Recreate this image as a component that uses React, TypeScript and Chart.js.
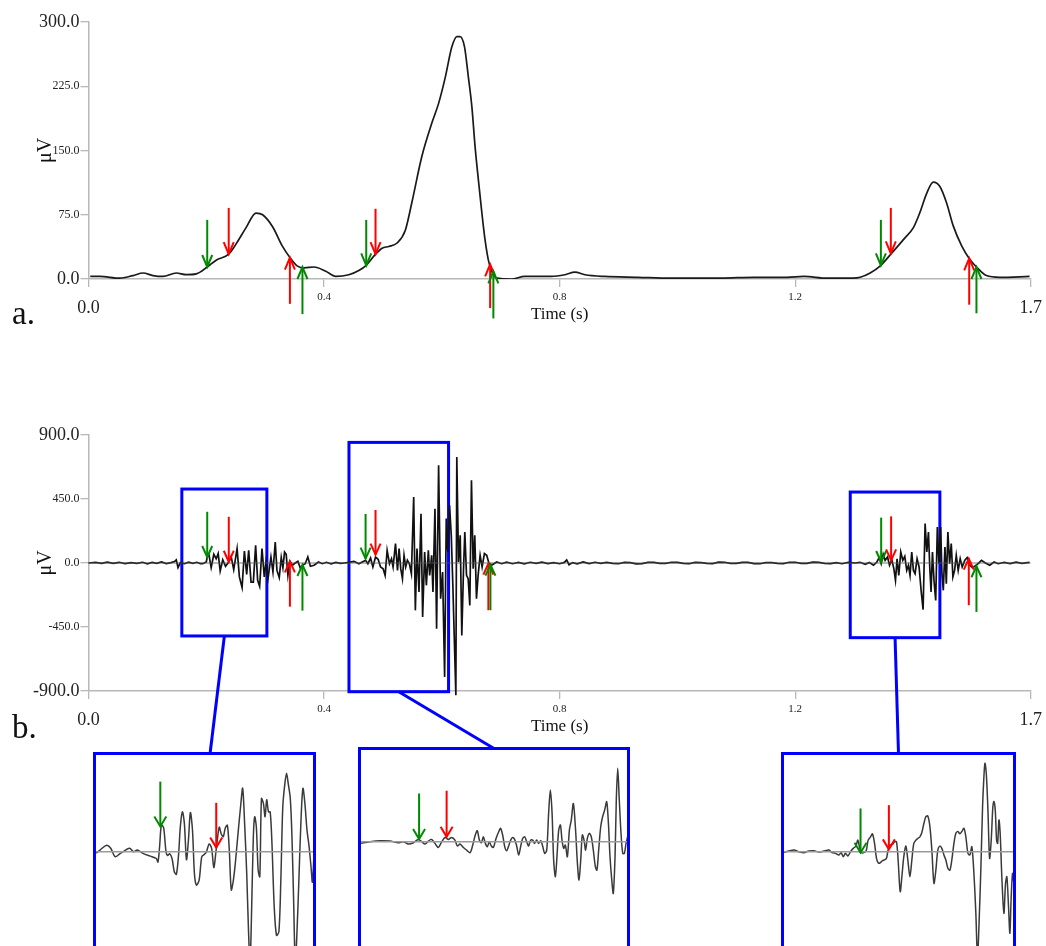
import React, { useEffect, useRef } from "react";
import { Chart, registerables } from "chart.js";

Chart.register(...registerables);

const FONT = "'Liberation Serif', 'Times New Roman', serif";
const BLUE = "#0000ff";
const COLORS: Record<string, string> = { green: "#008a00", red: "#ff0000" };

// ---------------- axis ticks ----------------
const xTickValues = [0, 0.4, 0.8, 1.2, 1.6];
const xTickLabels = ["0.0", "0.4", "0.8", "1.2", "1.7"];
const envTickValues = [0, 75, 150, 225, 300];
const rawTickValues = [-900, -450, 0, 450, 900];

// ---------------- (a) envelope ----------------
const envTimes = [
  0.003, 0.019, 0.053, 0.0755, 0.0927, 0.1096, 0.1265, 0.149, 0.166, 0.183,
  0.2016, 0.2168, 0.2381, 0.2507, 0.2676, 0.2845, 0.2957, 0.3126, 0.3295, 0.342,
  0.3549, 0.3662, 0.383, 0.403, 0.4198, 0.442, 0.459, 0.4716, 0.4874, 0.4986,
  0.51, 0.524, 0.538, 0.549, 0.566, 0.583, 0.5945, 0.606, 0.617, 0.6255,
  0.631, 0.6385, 0.645, 0.651, 0.6565, 0.662, 0.668, 0.6735, 0.679, 0.6846,
  0.693, 0.718, 0.741, 0.786, 0.809, 0.826, 0.843, 0.876, 0.933, 0.989,
  1.017, 1.074, 1.13, 1.186, 1.215, 1.254, 1.299, 1.3104, 1.3273, 1.3455,
  1.3624, 1.3838, 1.4007, 1.412, 1.4233, 1.4346, 1.4457, 1.457, 1.4684, 1.4825,
  1.4955, 1.5078, 1.5247, 1.5472, 1.598,
];
const envValues = [
  3, 3, 1, 4, 7, 4, 3, 7, 5, 6,
  14, 22, 29, 41, 60, 77, 75, 61, 38, 25,
  15, 13, 14, 9, 3, 5, 10, 16, 29, 36,
  38, 42, 57, 89, 143, 182, 205, 236, 271, 283,
  283, 271, 236, 201, 154, 116, 77, 45, 22, 9,
  1, 0, 3, 3, 5, 8, 5, 3, 2, 1,
  1, 1, 2, 2, 3, 1, 1, 2, 7, 16,
  29, 46, 60, 78, 100, 113, 108, 89, 62, 39,
  24, 14, 4, 2, 3,
];
const envArrowTimes = [0.2016, 0.2381, 0.342, 0.3633, 0.4716, 0.4874, 0.682, 0.6875, 1.3455, 1.3624, 1.4955, 1.5078];
const envArrowTips = [14, 29, 25, 14, 16, 29, 17, 9, 16, 30, 24, 14];
const envArrowTails = [69, 83, -29, -41, 69, 82, -34, -46, 69, 83, -30, -40];
const envArrowColors = ["green", "red", "red", "green", "green", "red", "red", "green", "green", "red", "red", "green"];

// ---------------- (b) raw EMG ----------------
const rawTimes = [
  0.0, 0.012, 0.022, 0.032, 0.042, 0.052, 0.062, 0.072, 0.082, 0.092,
  0.1, 0.108, 0.116, 0.124, 0.132, 0.14, 0.146, 0.149, 0.152, 0.156,
  0.163, 0.17, 0.177, 0.184, 0.19, 0.194, 0.2, 0.2016, 0.2044, 0.2083,
  0.2128, 0.2168, 0.2202, 0.2236, 0.228, 0.2326, 0.2382, 0.2422, 0.2466, 0.2523,
  0.2562, 0.2608, 0.2647, 0.2686, 0.272, 0.276, 0.2799, 0.2838, 0.2872, 0.2906,
  0.2946, 0.2985, 0.3014, 0.3048, 0.3098, 0.3132, 0.3171, 0.32, 0.3239, 0.3273,
  0.3301, 0.3329, 0.3357, 0.3386, 0.342, 0.3464, 0.351, 0.3555, 0.3594, 0.3633,
  0.3679, 0.3724, 0.3768, 0.3831, 0.3904, 0.3971, 0.4039, 0.412, 0.42, 0.428,
  0.4338, 0.4423, 0.4507, 0.4592, 0.4648, 0.4705, 0.4744, 0.479, 0.4829, 0.4874,
  0.4918, 0.4959, 0.5003, 0.5037, 0.5071, 0.5111, 0.5145, 0.5172, 0.5213, 0.5247,
  0.5274, 0.5302, 0.5331, 0.5358, 0.5386, 0.5415, 0.5449, 0.5483, 0.5522, 0.555,
  0.5578, 0.5612, 0.5646, 0.5674, 0.5708, 0.5737, 0.5771, 0.5793, 0.5827, 0.5849,
  0.5883, 0.5911, 0.5945, 0.5979, 0.6013, 0.6047, 0.6075, 0.6102, 0.6131, 0.616,
  0.6187, 0.621, 0.6238, 0.6254, 0.6283, 0.6312, 0.6339, 0.6368, 0.639, 0.6419,
  0.6447, 0.6475, 0.6503, 0.6532, 0.6559, 0.6588, 0.6616, 0.665, 0.6684, 0.6723,
  0.6762, 0.6802, 0.6858, 0.6931, 0.7016, 0.71, 0.72, 0.73, 0.74, 0.75,
  0.76, 0.77, 0.78, 0.79, 0.8, 0.808, 0.812, 0.816, 0.822, 0.83,
  0.84, 0.85, 0.86, 0.87, 0.88, 0.89, 0.9, 0.91, 0.92, 0.93,
  0.94, 0.95, 0.96, 0.97, 0.98, 0.99, 1.0, 1.01, 1.02, 1.03,
  1.04, 1.05, 1.06, 1.07, 1.08, 1.09, 1.1, 1.11, 1.12, 1.13,
  1.14, 1.15, 1.16, 1.17, 1.18, 1.19, 1.2, 1.21, 1.22, 1.23,
  1.24, 1.25, 1.26, 1.27, 1.2795, 1.29, 1.302, 1.31, 1.319, 1.326,
  1.333, 1.3387, 1.3426, 1.346, 1.3494, 1.3527, 1.3568, 1.3602, 1.3641, 1.3675,
  1.3703, 1.373, 1.3759, 1.3793, 1.3827, 1.3861, 1.3894, 1.3923, 1.395, 1.3979,
  1.4008, 1.4036, 1.407, 1.4104, 1.4138, 1.4172, 1.4206, 1.4235, 1.4263, 1.4285,
  1.4307, 1.4331, 1.4357, 1.4386, 1.4414, 1.4441, 1.447, 1.4492, 1.4515, 1.4543,
  1.4566, 1.4593, 1.4622, 1.465, 1.4678, 1.4707, 1.4735, 1.4768, 1.4802, 1.4836,
  1.4881, 1.4921, 1.4966, 1.501, 1.5049, 1.5107, 1.5163, 1.523, 1.5303, 1.5378,
  1.5445, 1.555, 1.565, 1.575, 1.585, 1.598,
];
const rawValues = [
  0, 4, -3, 6, -2, 5, -4, 3, -3, 5,
  -6, 4, -2, 7, -4, 3, 10, 22, -32, 3,
  -5, 6, -3, 5, -4, -5, 7, 42, 61, -33,
  61, 30, 66, -56, 23, -23, 7, 47, -47, 101,
  -98, -173, 84, -80, 89, -134, -134, 124, -122, -164,
  101, -98, 7, -110, 42, -63, 148, -52, -103, 38,
  -33, 77, 61, -87, 12, -16, 0, 12, -33, -16,
  -5, 42, -23, -16, 7, -5, 5, -6, 4, -3,
  0, 5, 12, -5, 7, 19, -5, 35, -28, 42,
  26, -28, -40, -87, 89, -5, 30, -28, 136, -52,
  101, -40, -110, 54, -28, 19, -5, -75, 464, -333,
  101, -204, 347, -380, 77, -157, 89, -87, 54, -204,
  382, -462, 687, -251, -63, -802, 312, 77, 405, 195,
  -157, -509, -930, 745, 7, 195, -509, -40, 218, -87,
  -110, -298, 581, -40, 195, -251, -87, 54, -28, 66,
  54, -5, -12, 7, -5, 6, -5, 4, -6, 5,
  -3, 6, -4, 3, -5, 4, 22, -12, 3, -6,
  8, -4, 5, -3, 4, -2, -5, 4, 3, -6,
  -4, 4, 5, -2, -3, 5, 4, -3, -5, 4,
  3, -2, -4, 6, 5, -3, -3, 4, 4, -4,
  -5, 3, 3, -2, -4, 5, 5, -3, -3, 6,
  4, -2, -4, 3, -5, 4, 0, 5, -9, 3,
  -16, 7, 38, -5, 61, 19, 42, -16, 23, -40,
  -122, 30, -87, 77, 19, 47, -52, -16, -87, 77,
  -52, -75, 30, -28, -192, -328, 277, 77, 218, -28,
  -204, 77, -122, -263, 253, -5, 253, -75, -192, 113,
  -145, 218, -5, 136, -98, -52, 54, -52, 30, -28,
  19, 38, -16, -33, -23, -5, 19, 0, -16, 7,
  -5, 4, -4, 6, -3, 4,
];
const rawArrowTimes = [0.2016, 0.2382, 0.342, 0.3633, 0.4705, 0.4874, 0.679, 0.6825, 1.346, 1.3629, 1.4948, 1.5078];
const rawArrowTips = [42, 9, 12, -14, 31, 59, -5, -12, 7, 19, 31, -23];
const rawArrowTails = [360, 325, -307, -335, 345, 373, -332, -332, 319, 328, -297, -344];
const rawArrowColors = ["green", "red", "red", "green", "green", "red", "red", "green", "green", "red", "red", "green"];

// zoom boxes on (b), in data units
const boxStarts = [0.1585, 0.4423, 1.2935];
const boxEnds = [0.3029, 0.6114, 1.4457];
const boxTops = [520, 848, 499];
const boxBottoms = [-513, -905, -525];

// ---------------- insets ----------------
const insetStarts = [0.1585, 0.433, 1.2925];
const insetEnds = [0.3029, 0.602, 1.446];
const insetMins = [-220, -1257, -404];
const insetMaxs = [160, 834, 293];

const inset1Times = [
  0.1585, 0.1612, 0.1656, 0.1683, 0.1712, 0.1745, 0.1808, 0.1835, 0.1861, 0.1901,
  0.1946, 0.1986, 0.1997, 0.2008, 0.202, 0.2035, 0.2051, 0.2062, 0.2075, 0.2091,
  0.2106, 0.212, 0.2135, 0.2146, 0.216, 0.2173, 0.2187, 0.22, 0.2213, 0.2227,
  0.224, 0.2253, 0.2271, 0.2289, 0.2307, 0.232, 0.2338, 0.2354, 0.2369, 0.2383,
  0.2392, 0.2405, 0.2418, 0.2432, 0.2445, 0.2459, 0.2472, 0.2485, 0.2499, 0.2512,
  0.253, 0.2548, 0.2561, 0.2574, 0.2588, 0.2599, 0.261, 0.2621, 0.2632, 0.2641,
  0.2652, 0.2664, 0.2675, 0.2686, 0.2699, 0.271, 0.2721, 0.2733, 0.2744, 0.2755,
  0.2771, 0.2786, 0.2802, 0.2815, 0.2828, 0.2842, 0.2853, 0.2864, 0.2878, 0.2889,
  0.29, 0.2911, 0.2922, 0.2935, 0.2949, 0.2962, 0.2975, 0.2989, 0.3002, 0.3016,
  0.3025, 0.3038,
];
const inset1Values = [
  -2, 3, 11, 6, -8, -3, 6, 0, 3, -3,
  -7, -11, -17, 8, 44, 40, 0, -6, -3, -11,
  -33, -37, -3, 41, 66, 47, -13, 19, 65, 36,
  -36, -55, -47, -8, -4, 0, 13, 6, -26, 0,
  19, 41, 30, 25, 39, 44, 3, -63, -47, -19,
  30, 77, 105, 47, -36, -124, -185, -91, 25, 58,
  41, -30, -41, 88, 80, 58, 86, 66, 66, 19,
  -91, -138, -132, -47, 75, 113, 130, 113, 88, 25,
  -80, -185, -135, -47, 52, 105, 80, 36, 11, -25,
  -50, 8,
];
const inset2Times = [
  0.4328, 0.4387, 0.4451, 0.4514, 0.4567, 0.4599, 0.4631, 0.4663, 0.4694, 0.4716,
  0.4737, 0.4758, 0.4779, 0.48, 0.4821, 0.4843, 0.4864, 0.4885, 0.4906, 0.4927,
  0.4942, 0.4959, 0.498, 0.5001, 0.5023, 0.504, 0.5056, 0.5069, 0.5082, 0.5095,
  0.5107, 0.512, 0.5133, 0.5145, 0.5158, 0.5171, 0.5188, 0.5205, 0.5217, 0.523,
  0.5243, 0.5255, 0.5268, 0.5281, 0.5294, 0.5306, 0.5319, 0.5332, 0.5345, 0.5357,
  0.537, 0.5383, 0.5395, 0.5408, 0.5421, 0.5433, 0.5446, 0.5459, 0.5472, 0.5484,
  0.5497, 0.551, 0.5522, 0.5533, 0.5544, 0.5554, 0.5565, 0.5575, 0.5586, 0.5597,
  0.5607, 0.5618, 0.5628, 0.5641, 0.5654, 0.5666, 0.5679, 0.5692, 0.5705, 0.5715,
  0.5726, 0.5736, 0.5747, 0.5757, 0.5768, 0.5781, 0.5793, 0.5806, 0.5819, 0.5829,
  0.584, 0.5853, 0.5865, 0.5878, 0.5891, 0.5902, 0.5912, 0.5925, 0.5933, 0.5944,
  0.5952, 0.5961, 0.5971, 0.5982, 0.5993, 0.6003, 0.6014, 0.6024,
];
const inset2Values = [
  -15, 0, 9, 6, -9, 0, -21, -9, 21, 0,
  -21, 6, 21, -15, -52, 0, 39, 21, 39, 15,
  -39, -21, -52, -76, -100, -30, 61, 100, 15, -9,
  45, -15, -45, 0, -39, -52, 30, 91, 121, 61,
  -45, -82, -39, 15, 39, 21, -39, -121, -39, 30,
  45, 0, -39, 15, 15, -15, 15, -15, 9, -39,
  -106, -76, 258, 470, 258, -167, -318, -136, 106, 152,
  15, -61, -30, -136, 106, 197, 348, 136, -197, -348,
  -167, 61, 15, -76, 30, 76, 45, -76, -227, -258,
  -76, 136, 227, 288, 364, 167, -136, -379, -470, -136,
  379, 667, 379, 76, -106, -106, -15, 45,
];
const inset3Times = [
  1.2924, 1.2957, 1.2991, 1.3024, 1.3058, 1.3091, 1.3125, 1.3159, 1.3192, 1.3226,
  1.3248, 1.327, 1.3293, 1.3308, 1.3322, 1.3337, 1.3353, 1.3371, 1.3389, 1.3407,
  1.342, 1.3433, 1.3447, 1.346, 1.3476, 1.3489, 1.3505, 1.3518, 1.3532, 1.3545,
  1.3559, 1.3572, 1.3585, 1.3599, 1.3612, 1.3623, 1.3639, 1.3655, 1.3666, 1.3679,
  1.369, 1.3704, 1.3717, 1.3728, 1.3742, 1.3755, 1.3769, 1.3782, 1.3795, 1.3809,
  1.3822, 1.3836, 1.3849, 1.3863, 1.3876, 1.3889, 1.3903, 1.3916, 1.393, 1.3943,
  1.3956, 1.397, 1.3983, 1.3997, 1.401, 1.4024, 1.4037, 1.405, 1.4064, 1.4077,
  1.4091, 1.4104, 1.4117, 1.4131, 1.4144, 1.4158, 1.4171, 1.4184, 1.4198, 1.4211,
  1.4222, 1.4234, 1.4245, 1.4256, 1.4265, 1.4272, 1.4281, 1.4292, 1.4303, 1.4314,
  1.4325, 1.4332, 1.4341, 1.435, 1.4357, 1.4366, 1.4374, 1.4386, 1.4399, 1.441,
  1.4419, 1.443, 1.4439, 1.4448, 1.4457, 1.4466,
];
const inset3Values = [
  -2, 2, 5, 0, -3, 2, 3, -1, 2, 5,
  -3, -5, -10, -3, -15, -5, -13, 0, 10, 17,
  35, 10, -3, -3, 3, 35, 45, 54, 25, -20,
  -35, -33, -27, -25, -20, 5, 20, 23, 30, 30,
  -25, -121, -66, -15, 17, -25, -76, -25, 25, 35,
  40, 45, 58, 86, 106, 108, 76, 5, -96, -56,
  5, 17, 10, -10, -25, -51, -56, -25, 25, 56,
  61, 54, 61, 71, 45, -5, -10, 15, -66, -187,
  -320, -197, -45, 136, 227, 268, 237, 126, -20, 35,
  136, 152, 126, 35, 25, 96, 56, -86, -187, -96,
  -76, -167, -247, -136, -66, -96,
];
const inset1ArrowTimes = [0.2013, 0.2385];
const inset1ArrowTips = [42, 7];
const inset1ArrowTails = [116, 81];
const inset2ArrowTimes = [0.4699, 0.4874];
const inset2ArrowTips = [24, 45];
const inset2ArrowTails = [439, 464];
const inset3ArrowTimes = [1.3438, 1.3628];
const inset3ArrowTips = [-3, 7];
const inset3ArrowTails = [131, 141];
const insetArrowColors = ["green", "red"];

// ---------------- layout (page pixels) ----------------
const CANVAS_A = { left: 0, top: 0, width: 1046, height: 340 };
const CANVAS_B = { left: 0, top: 410, width: 1046, height: 536 };
const INSETS = [
  { left: 93, top: 752, width: 223, height: 236, anchor: 0.525 },
  { left: 358, top: 747, width: 272, height: 236, anchor: 0.5 },
  { left: 781, top: 752, width: 235, height: 236, anchor: 0.5 },
];

type ArrowSet = { times: number[]; tips: number[]; tails: number[]; colors: string[] };

function drawArrow(ctx: CanvasRenderingContext2D, x: number, yTip: number, yTail: number, color: string, head: number, half: number, width: number) {
  ctx.save();
  ctx.strokeStyle = color;
  ctx.lineWidth = width;
  ctx.beginPath();
  ctx.moveTo(x, yTail);
  ctx.lineTo(x, yTip);
  ctx.stroke();
  const dir = yTip > yTail ? 1 : -1;
  ctx.beginPath();
  ctx.moveTo(x - half, yTip - dir * head);
  ctx.lineTo(x, yTip);
  ctx.lineTo(x + half, yTip - dir * head);
  ctx.stroke();
  ctx.restore();
}

function arrowPlugin(set: ArrowSet, head: number, half: number, width: number) {
  return {
    id: "arrows",
    afterDatasetsDraw(chart: any) {
      const { ctx, scales } = chart;
      set.times.forEach((t, i) => {
        drawArrow(
          ctx,
          scales.x.getPixelForValue(t),
          scales.y.getPixelForValue(set.tips[i]),
          scales.y.getPixelForValue(set.tails[i]),
          COLORS[set.colors[i]],
          head,
          half,
          width
        );
      });
    },
  };
}

const zoomBoxPlugin = {
  id: "zoomBoxes",
  beforeDatasetsDraw(chart: any) {
    const { ctx, scales } = chart;
    const { x, y } = scales;
    ctx.save();
    ctx.strokeStyle = BLUE;
    ctx.lineWidth = 3;
    boxStarts.forEach((s, i) => {
      const l = x.getPixelForValue(s);
      const r = x.getPixelForValue(boxEnds[i]);
      const t = y.getPixelForValue(boxTops[i]);
      const b = y.getPixelForValue(boxBottoms[i]);
      ctx.strokeRect(l, t, r - l, b - t);
      const inset = INSETS[i];
      const ex = inset.left + inset.width * inset.anchor - CANVAS_B.left;
      const ey = inset.top + 1.5 - CANVAS_B.top;
      ctx.beginPath();
      ctx.moveTo((l + r) / 2, b);
      ctx.lineTo(ex, ey);
      ctx.stroke();
    });
    ctx.restore();
  },
};

function xScale(padBottom: number) {
  return {
    type: "linear" as const,
    min: 0,
    max: 1.6,
    afterBuildTicks: (s: any) => {
      s.ticks = xTickValues.map((v) => ({ value: v }));
    },
    afterFit: (s: any) => {
      s.height = 61;
    },
    ticks: {
      autoSkip: false,
      maxRotation: 0,
      padding: 4,
      color: "#222",
      callback: (_v: any, i: number) => xTickLabels[i],
      font: (ctx: any) => {
        const big = ctx.index === 0 || ctx.index === xTickValues.length - 1;
        return big ? { family: FONT, size: 18, lineHeight: 1.95 } : { family: FONT, size: 11, lineHeight: 1.2 };
      },
    },
    grid: { drawOnChartArea: false, drawTicks: true, tickLength: 8, color: "#b8b8b8", lineWidth: 1.3 },
    border: { display: true, color: "#b8b8b8", width: 1.5 },
    title: { display: true, text: "Time (s)", color: "#111", font: { family: FONT, size: 17 }, padding: { top: 0, bottom: padBottom } },
  };
}

function yScale(min: number, max: number, ticks: number[]) {
  return {
    min,
    max,
    afterBuildTicks: (s: any) => {
      s.ticks = ticks.map((v) => ({ value: v }));
    },
    afterFit: (s: any) => {
      s.width = 88.5;
    },
    ticks: {
      autoSkip: false,
      padding: 1,
      color: "#222",
      callback: (v: any) => Number(v).toFixed(1),
      font: (ctx: any) => {
        const big = ctx.index === 0 || ctx.index === ticks.length - 1;
        return { family: FONT, size: big ? 18 : 12 };
      },
    },
    grid: { drawOnChartArea: false, drawTicks: true, tickLength: 8, color: "#b8b8b8", lineWidth: 1.3 },
    border: { display: true, color: "#b8b8b8", width: 1.5 },
    title: { display: true, text: "μV", color: "#111", font: { family: FONT, size: 20 }, padding: { top: 34, bottom: 0 } },
  };
}

function zip(times: number[], values: number[]) {
  return times.map((t, i) => ({ x: t, y: values[i] }));
}

function configA(): any {
  return {
    type: "line",
    data: {
      datasets: [
        {
          data: zip(envTimes, envValues),
          borderColor: "#1a1a1a",
          borderWidth: 1.7,
          pointRadius: 0,
          cubicInterpolationMode: "monotone",
          fill: false,
        },
      ],
    },
    options: {
      responsive: false,
      animation: false,
      events: [],
      layout: { padding: { left: 0, top: 22, right: 12, bottom: 0 } },
      plugins: { legend: { display: false }, tooltip: { enabled: false } },
      scales: { x: xScale(15), y: yScale(0, 300, envTickValues) },
    },
    plugins: [arrowPlugin({ times: envArrowTimes, tips: envArrowTips, tails: envArrowTails, colors: envArrowColors }, 12, 5, 2)],
  };
}

function configB(): any {
  return {
    type: "line",
    data: {
      datasets: [
        {
          data: [
            { x: 0, y: 0 },
            { x: 1.6, y: 0 },
          ],
          borderColor: "#555",
          borderWidth: 0.8,
          pointRadius: 0,
        },
        {
          data: zip(rawTimes, rawValues),
          borderColor: "#111",
          borderWidth: 1.7,
          pointRadius: 0,
          tension: 0,
          clip: 6,
        },
      ],
    },
    options: {
      responsive: false,
      animation: false,
      events: [],
      layout: { padding: { left: 0, top: 25, right: 12, bottom: 194 } },
      plugins: { legend: { display: false }, tooltip: { enabled: false } },
      scales: { x: xScale(15), y: yScale(-900, 900, rawTickValues) },
    },
    plugins: [
      zoomBoxPlugin,
      arrowPlugin({ times: rawArrowTimes, tips: rawArrowTips, tails: rawArrowTails, colors: rawArrowColors }, 11, 5, 2),
    ],
  };
}

function insetConfig(i: number, times: number[], values: number[], arrows: ArrowSet): any {
  return {
    type: "line",
    data: {
      datasets: [
        {
          data: [
            { x: insetStarts[i], y: 0 },
            { x: insetEnds[i], y: 0 },
          ],
          borderColor: "#9a9a9a",
          borderWidth: 1.5,
          pointRadius: 0,
        },
        {
          data: zip(times, values),
          borderColor: "#3a3a3a",
          borderWidth: 1.5,
          pointRadius: 0,
          tension: 0.3,
        },
      ],
    },
    options: {
      responsive: false,
      animation: false,
      events: [],
      layout: { padding: 0 },
      plugins: { legend: { display: false }, tooltip: { enabled: false } },
      scales: {
        x: { type: "linear", display: false, min: insetStarts[i], max: insetEnds[i] },
        y: { display: false, min: insetMins[i], max: insetMaxs[i] },
      },
    },
    plugins: [arrowPlugin(arrows, 10, 6, 2)],
  };
}

function ChartCanvas({ make, width, height }: { make: () => any; width: number; height: number }) {
  const ref = useRef<HTMLCanvasElement>(null);
  useEffect(() => {
    const chart = new Chart(ref.current as HTMLCanvasElement, make());
    return () => chart.destroy();
  }, []);
  return <canvas ref={ref} width={width} height={height} style={{ display: "block" }} />;
}

export default function App() {
  Chart.defaults.font.family = FONT;
  const insetMakers = [
    () => insetConfig(0, inset1Times, inset1Values, { times: inset1ArrowTimes, tips: inset1ArrowTips, tails: inset1ArrowTails, colors: insetArrowColors }),
    () => insetConfig(1, inset2Times, inset2Values, { times: inset2ArrowTimes, tips: inset2ArrowTips, tails: inset2ArrowTails, colors: insetArrowColors }),
    () => insetConfig(2, inset3Times, inset3Values, { times: inset3ArrowTimes, tips: inset3ArrowTips, tails: inset3ArrowTails, colors: insetArrowColors }),
  ];
  const labelStyle: React.CSSProperties = {
    position: "absolute",
    left: 12,
    fontFamily: FONT,
    fontSize: 33,
    lineHeight: "1",
    color: "#111",
  };
  return (
    <div style={{ position: "fixed", left: 0, top: 0, width: 1046, height: 946, overflow: "hidden", background: "#fff" }}>
      <div style={{ position: "absolute", left: CANVAS_A.left, top: CANVAS_A.top }}>
        <ChartCanvas make={configA} width={CANVAS_A.width} height={CANVAS_A.height} />
      </div>
      <div style={{ position: "absolute", left: CANVAS_B.left, top: CANVAS_B.top }}>
        <ChartCanvas make={configB} width={CANVAS_B.width} height={CANVAS_B.height} />
      </div>
      {INSETS.map((p, i) => (
        <div
          key={i}
          style={{
            position: "absolute",
            left: p.left,
            top: p.top,
            width: p.width,
            height: p.height,
            border: `3px solid ${BLUE}`,
            boxSizing: "border-box",
            background: "#fff",
          }}
        >
          <ChartCanvas make={insetMakers[i]} width={p.width - 6} height={p.height - 6} />
        </div>
      ))}
      <div style={{ ...labelStyle, top: 297 }}>a.</div>
      <div style={{ ...labelStyle, top: 711 }}>b.</div>
    </div>
  );
}
